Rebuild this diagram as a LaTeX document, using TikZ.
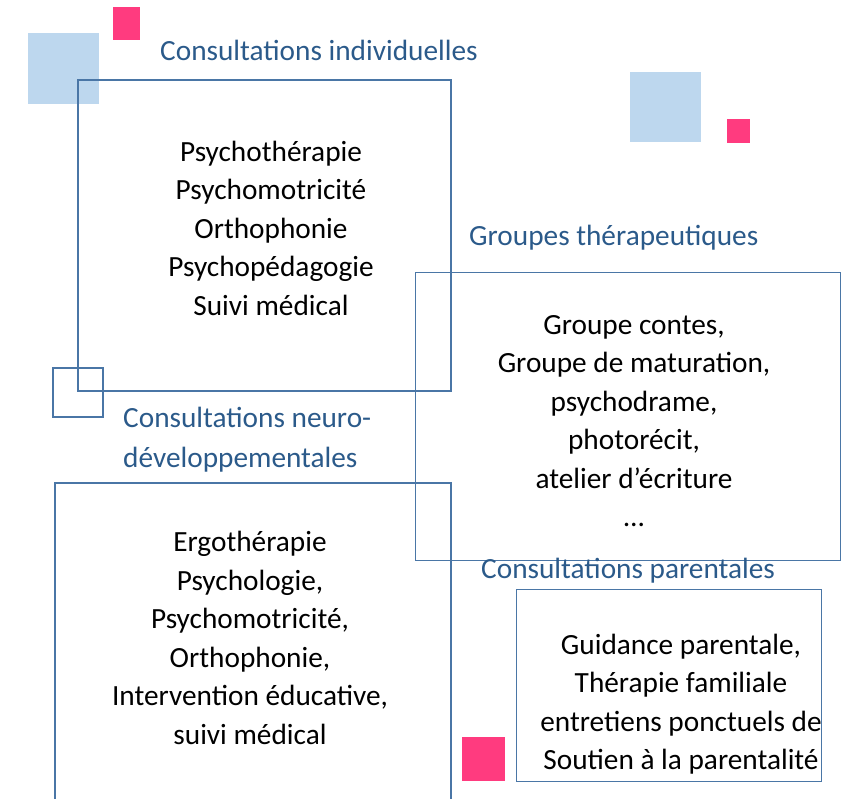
\documentclass[tikz,border=0pt]{standalone}
\usepackage{fontspec}
\setmainfont{Carlito}
\definecolor{pinkc}{HTML}{FF3B7F}
\definecolor{lblue}{HTML}{BDD7EE}
\definecolor{boxc}{HTML}{4A76A6}
\definecolor{titlec}{HTML}{2B5A8A}
\begin{document}
\begin{tikzpicture}[x=1pt,y=-1pt,
  pinksq/.style={fill=pinkc,draw=none},
  bluesq/.style={fill=lblue,draw=none},
  thick box/.style={draw=boxc,line width=2.5pt},
  thin box/.style={draw=boxc,line width=1pt},
  ttl/.style={text=titlec,font=\fontsize{29.3}{40}\selectfont,anchor=west,inner sep=0pt,align=left},
  body/.style={text=black,font=\fontsize{29.3}{38.5}\selectfont,align=center,inner sep=0pt}]
\useasboundingbox (0,0) rectangle (845,798);
% decorative squares
\path[bluesq] (28,33) rectangle (99,104);
\path[pinksq] (113,7) rectangle (140,40);
\path[bluesq] (630,72) rectangle (701,142);
\path[pinksq] (727,119) rectangle (750,143);
\path[pinksq] (462,737) rectangle (505,781);
% boxes
\draw[thick box] (78,80) rectangle (451,391);
\draw[thick box] (53,368) rectangle (103,417);
\draw[draw=boxc,line width=2pt] (55,800) -- (55,483) -- (451,483) -- (451,800);
\draw[thin box] (415,272) rectangle (840,560);
\draw[thin box] (516,589) rectangle (821,781);
% titles
\node[ttl] (t1) at (160,50) {Consultations individuelles};
\node[ttl] (t2) at (469,238) {Groupes thérapeutiques};
\node[ttl] (t3) at (123,440) {Consultations neuro-\\développementales};
\node[ttl] (t4) at (481,571) {Consultations parentales};
% body texts
\node[body] (b1) at (271,228) {Psychothérapie\\Psychomotricité\\Orthophonie\\Psychopédagogie\\Suivi médical};
\node[body] (b2) at (250,638) {Ergothérapie\\Psychologie,\\Psychomotricité,\\Orthophonie,\\Intervention éducative,\\suivi médical};
\node[body] (b3) at (634,421) {Groupe contes,\\Groupe de maturation,\\psychodrame,\\photorécit,\\atelier d’écriture\\…};
\node[body] (b4) at (681,704) {Guidance parentale,\\Thérapie familiale\\entretiens ponctuels de\\Soutien à la parentalité};
\end{tikzpicture}
\end{document}
